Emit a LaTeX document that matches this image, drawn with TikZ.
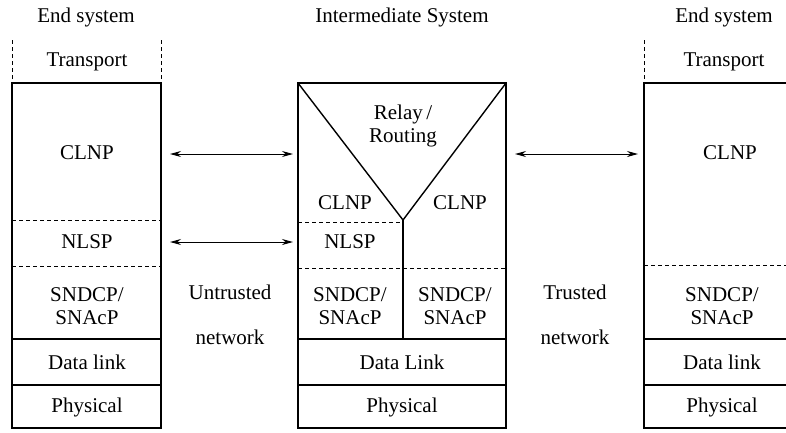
\documentclass[tikz,border=0pt]{standalone}
\usepackage{fontspec}
\setmainfont{Liberation Serif}
\usetikzlibrary{arrows.meta,positioning}

\begin{document}
\begin{tikzpicture}[x=1pt,y=-1pt,font=\fontsize{21}{23}\selectfont]

\def \heavy{1.4pt}
\def \light{1pt}
\def \top{83}
\def \bot{428}
\def \dl{339}
\def \ph{385}

\tikzset{cut/.style={line width=\light,dash pattern=on 4pt off 3pt}}
\tikzset{link/.style={{Stealth[length=11pt,width=6pt]}-{Stealth[length=11pt,width=6pt]},line width=\light}}
\tikzset{lbl/.style={align=center,inner sep=0pt}}

\useasboundingbox (0,0) rectangle (786,432);

% left end system
\draw[cut] (12,40) -- (12,\top);
\draw[cut] (161,40) -- (161,\top);
\draw[line width=\heavy] (12,\top) rectangle (161,\bot);
\draw[cut] (12,220) -- (161,220);
\draw[cut] (12,266) -- (161,266);
\draw[line width=\heavy] (12,\dl) -- (161,\dl);
\draw[line width=\heavy] (12,\ph) -- (161,\ph);

\node[lbl] (lend) at (86,17) {End system};
\node[lbl] (ltrans) at (87,62) {Transport};
\node[lbl] (lclnp) at (87,153) {CLNP};
\node[lbl] (lnlsp) at (87,242) {NLSP};
\node[lbl] (lsnd) at (87,306) {SNDCP/\\SNAcP};
\node[lbl] (llink) at (87,362) {Data link};
\node[lbl] (lphys) at (87,407) {Physical};

% intermediate system
\draw[line width=\heavy] (298,\top) rectangle (506,\bot);
\draw[line width=\heavy] (298,\top) -- (403,220) -- (506,\top);
\draw[line width=\heavy] (403,220) -- (403,\dl);
\draw[cut] (298,222) -- (403,222);
\draw[cut] (298,268) -- (506,268);
\draw[line width=\heavy] (298,\dl) -- (506,\dl);
\draw[line width=\heavy] (298,\ph) -- (506,\ph);

\node[lbl] (mhead) at (402,17) {Intermediate System};
\node[lbl] (relay) at (403,126) {Relay\,/\\Routing};
\node[lbl] (mclnpa) at (345,203) {CLNP};
\node[lbl] (mclnpb) at (460,203) {CLNP};
\node[lbl] (mnlsp) at (350,242) {NLSP};
\node[lbl] (msnda) at (350,306) {SNDCP/\\SNAcP};
\node[lbl] (msndb) at (455,306) {SNDCP/\\SNAcP};
\node[lbl] (mlink) at (402,362) {Data Link};
\node[lbl] (mphys) at (402,407) {Physical};

% right end system
\draw[cut] (644,40) -- (644,\top);
\draw[line width=\heavy] (790,\top) -- (644,\top) -- (644,\bot) -- (790,\bot);
\draw[cut] (644,265) -- (790,265);
\draw[line width=\heavy] (644,\dl) -- (790,\dl);
\draw[line width=\heavy] (644,\ph) -- (790,\ph);

\node[lbl] (rend) at (724,17) {End system};
\node[lbl] (rtrans) at (724,62) {Transport};
\node[lbl] (rclnp) at (730,153) {CLNP};
\node[lbl] (rsnd) at (722,306) {SNDCP/\\SNAcP};
\node[lbl] (rlink) at (722,362) {Data link};
\node[lbl] (rphys) at (722,407) {Physical};

% networks
\node[lbl] (untr) at (230,292) {Untrusted};
\node[lbl] (unet) at (230,337) {network};
\node[lbl] (tr) at (575,292) {Trusted};
\node[lbl] (tnet) at (575,337) {network};

% peer arrows
\coordinate (ac) at (170,154);
\coordinate (bc) at (293,154);
\coordinate (an) at (170,242);
\coordinate (bn) at (293,242);
\coordinate (cc) at (515,154);
\coordinate (dc) at (638,154);
\draw[link] (ac) -- (bc);
\draw[link] (an) -- (bn);
\draw[link] (cc) -- (dc);

\end{tikzpicture}
\end{document}
